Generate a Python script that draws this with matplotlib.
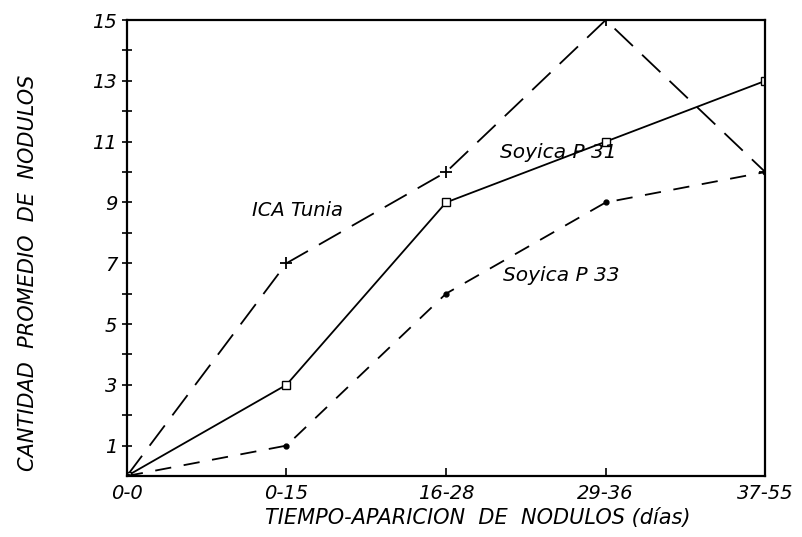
import numpy as np
import matplotlib.pyplot as plt

# datos
periodos = ['0-0', '0-15', '16-28', '29-36', '37-55']
ica_tunia = [0, 7, 10, 15, 10]
soyica_p31 = [0, 3, 9, 11, 13]
soyica_p33 = [0, 1, 6, 9, 10]

plt.rcParams['font.family'] = 'DejaVu Sans'
plt.rcParams['font.style'] = 'italic'

fig = plt.figure(figsize=(8.03, 5.37), dpi=100)
ax = fig.add_axes([0.158, 0.1136, 0.795, 0.849])

x = np.arange(len(periodos))
ax.plot(x, ica_tunia, color='black', lw=1.3, dashes=(14, 7),
        marker='+', ms=8, mew=1.3)
ax.plot(x, soyica_p31, color='black', lw=1.3,
        marker='s', ms=6, mfc='white', mew=1.0)
ax.plot(x, soyica_p33, color='black', lw=1.3, dashes=(9, 7),
        marker='o', ms=3.5)

ax.text(1.07, 8.75, 'ICA Tunia', fontsize=14, ha='center', va='center')
ax.text(2.7, 10.65, 'Soyica P 31', fontsize=14.5, ha='center', va='center')
ax.text(2.72, 6.6, 'Soyica P 33', fontsize=14.5, ha='center', va='center')

ax.set_xlim(0, 4)
ax.set_ylim(0, 15)
ax.set_xticks(x)
ax.set_xticklabels(periodos, fontsize=14)
ax.set_yticks(np.arange(1, 16, 2))
ax.set_yticks(np.arange(2, 15, 2), minor=True)
ax.tick_params(axis='y', labelsize=14, direction='inout', length=7, width=1.2)
ax.tick_params(axis='y', which='minor', direction='inout', length=7, width=1.2)
ax.tick_params(axis='x', direction='in', length=6, width=1.2, pad=6)
for s in ax.spines.values():
    s.set_linewidth(1.6)

ax.set_xlabel('TIEMPO-APARICION  DE  NODULOS (días)', fontsize=15)
ax.xaxis.set_label_coords(0.55, -0.07)
ax.set_ylabel('CANTIDAD  PROMEDIO  DE  NODULOS', fontsize=15)
ax.yaxis.set_label_coords(-0.14, 0.445)

fig.savefig('out.png', dpi=100)
